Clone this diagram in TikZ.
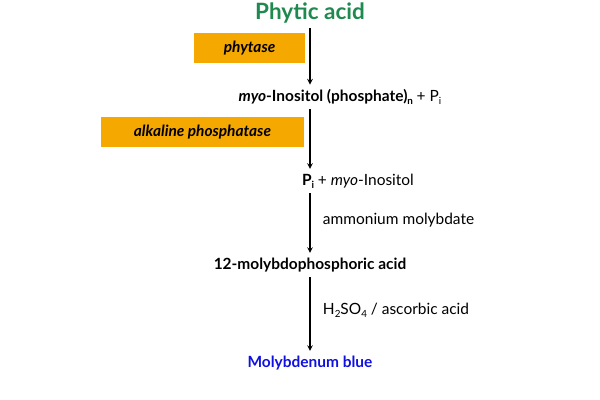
\documentclass[tikz,border=0pt]{standalone}
\usepackage{fontspec}
\setmainfont{Lato}
\usetikzlibrary{positioning}
\definecolor{enzyme}{HTML}{F5A800}
\definecolor{phyticgreen}{HTML}{1E8A50}
\definecolor{molyblue}{HTML}{1010E0}
\newcommand{\sub}[1]{\raisebox{-0.35ex}{\fontsize{7}{8}\selectfont #1}}

\begin{document}
\begin{tikzpicture}
        \tikzset{
            enzbox/.style={fill=enzyme, font=\itshape\bfseries\fontsize{11}{13}\selectfont},
            compound/.style={font=\bfseries\fontsize{11}{13}\selectfont},
            reagent/.style={anchor=west, font=\fontsize{11}{13}\selectfont}
        }
        \useasboundingbox (0,0) rectangle (15,10);

        % Compounds
        \node[font=\bfseries\fontsize{16}{18}\selectfont, text=phyticgreen] (phytic) at (7.75,9.675) {Phytic acid};
        \node[compound] (myo) at (8.5,7.575) {\textit{myo}-Inositol (phosphate)\sub{n} \textmd{+ P\sub{i}}};
        \node[compound] (pi) at (8.95,5.475) {P\sub{i} \textmd{+ \textit{myo}-Inositol}};
        \node[compound] (mpa) at (7.75,3.375) {12-molybdophosphoric acid};
        \node[compound, text=molyblue] (blue) at (7.75,0.925) {Molybdenum blue};

        % Enzymes
        \node[enzbox, minimum width=2.775cm, minimum height=0.75cm] (phytase) at (6.24,8.8) {phytase};
        \node[enzbox, minimum width=5.075cm, minimum height=0.75cm] (alkp) at (5.06,6.7) {alkaline phosphatase};

        % Arrows
        \draw[-stealth, thick] (phytic.south) -- (phytic.south |- myo.north);
        \draw[-stealth, thick] (phytic.south |- myo.south) -- (phytic.south |- pi.north);
        \draw[-stealth, thick] (phytic.south |- pi.south) -- (mpa.north);
        \draw[-stealth, thick] (mpa.south) -- (blue.north);

        % Reagents
        \node[reagent] (amm) at (7.95,4.5) {ammonium molybdate};
        \node[reagent] (acid) at (7.95,2.25) {H\sub{2}SO\sub{4} / ascorbic acid};
    \end{tikzpicture}
\end{document}
